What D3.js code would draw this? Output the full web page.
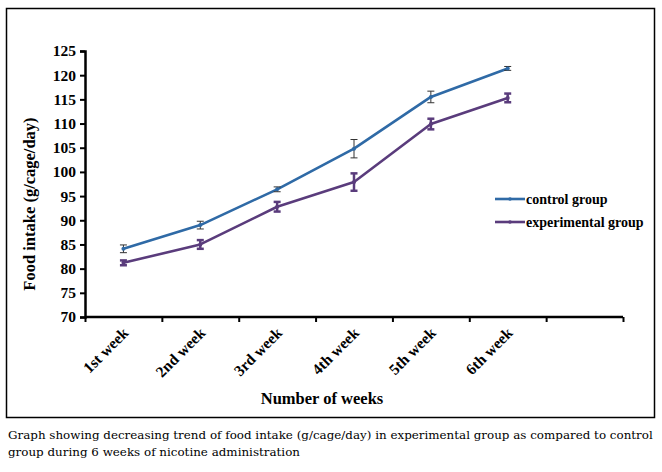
<!DOCTYPE html>
<html><head><meta charset="utf-8">
<script src="https://cdn.jsdelivr.net/npm/d3@7"></script>
<style>body{margin:0;background:#fff;} svg{display:block;}</style>
</head><body>
<svg id="c" width="662" height="472"></svg>
<script>
const categories = ["1st week","2nd week","3rd week","4th week","5th week","6th week",""];
const controlValues = [84.1, 89.0, 96.4, 104.8, 115.5, 121.4];
const controlErrors = [0.8, 0.8, 0.5, 1.9, 1.2, 0.4];
const experimentalValues = [81.2, 85.0, 92.8, 97.9, 109.9, 115.3];
const experimentalErrors = [0.5, 0.9, 1.0, 1.8, 1.1, 0.9];
const yTicks = [70,75,80,85,90,95,100,105,110,115,120,125];
const seriesNames = ["control group","experimental group"];

const svg = d3.select("#c");
const serif = "Liberation Serif";
svg.append("rect").attr("x",6.5).attr("y",8.5).attr("width",648).attr("height",409)
  .attr("fill","none").attr("stroke","#000").attr("stroke-width",1.5);

const x = d3.scaleBand().domain(categories.map((c,i)=>i)).range([85,623]);
const y = d3.scaleLinear().domain([70,125]).range([317,51]);

const yAxis = svg.append("g").attr("transform","translate(85,0)")
  .call(d3.axisLeft(y).tickValues(yTicks).tickSize(5).tickPadding(4));
yAxis.attr("font-family",serif);
yAxis.select(".domain").attr("stroke-width",2.5);
yAxis.selectAll(".tick line").attr("stroke-width",2);
yAxis.selectAll("text").style("font-family",serif).attr("font-weight","bold").attr("font-size",15.5).attr("fill","#000");

const xAxis = svg.append("g").attr("transform","translate(0,317)")
  .call(d3.axisBottom(d3.scaleLinear().domain([0,7]).range([85,623])).ticks(7).tickSize(5).tickFormat(""));
xAxis.select(".domain").attr("stroke-width",2.5).attr("d","M85,0H623");
xAxis.selectAll(".tick line").attr("stroke-width",2);

categories.slice(0,6).forEach((c,i)=>{
  const cx = x(i)+x.bandwidth()/2 + 6;
  svg.append("text").attr("transform",`translate(${cx},334) rotate(-45)`)
    .attr("text-anchor","end").style("font-family",serif).attr("font-weight","bold")
    .attr("font-size",15.5).text(c);
});

const cxs = i => x(i)+x.bandwidth()/2;
const line = d3.line().x((d,i)=>cxs(i)).y(d=>y(d));

function drawSeries(vals, errs, color, errColor, errW, capW){
  svg.append("path").datum(vals).attr("d",line).attr("fill","none")
    .attr("stroke",color).attr("stroke-width",2.6).attr("stroke-linejoin","round");
  const g = svg.append("g");
  vals.forEach((v,i)=>{
    const X = cxs(i), y1 = y(v+errs[i]), y2 = y(v-errs[i]);
    g.append("line").attr("x1",X).attr("x2",X).attr("y1",y1).attr("y2",y2).attr("stroke",errColor).attr("stroke-width",errW);
    g.append("line").attr("x1",X-capW).attr("x2",X+capW).attr("y1",y1).attr("y2",y1).attr("stroke",errColor).attr("stroke-width",errW);
    g.append("line").attr("x1",X-capW).attr("x2",X+capW).attr("y1",y2).attr("y2",y2).attr("stroke",errColor).attr("stroke-width",errW);
    g.append("circle").attr("cx",X).attr("cy",y(v)).attr("r",2).attr("fill",color);
  });
}
drawSeries(controlValues, controlErrors, "#2f6aa6", "#333", 1, 3.5);
drawSeries(experimentalValues, experimentalErrors, "#5a3c7c", "#5a3c7c", 2.5, 3.5);

// legend
const legColors = ["#2f6aa6","#5a3c7c"];
seriesNames.forEach((n,i)=>{
  const ly = 199 + i*23;
  svg.append("line").attr("x1",495).attr("x2",525).attr("y1",ly).attr("y2",ly).attr("stroke",legColors[i]).attr("stroke-width",2.6);
  svg.append("circle").attr("cx",510).attr("cy",ly).attr("r",1.8).attr("fill",legColors[i]);
  svg.append("text").attr("x",526).attr("y",ly+4.5).style("font-family",serif).attr("font-weight","bold")
    .attr("font-size",14).text(n);
});

// axis titles
svg.append("text").attr("x",322).attr("y",404).attr("text-anchor","middle").style("font-family",serif)
  .attr("font-weight","bold").attr("font-size",16.5).text("Number of weeks");
svg.append("text").attr("transform","translate(35,204) rotate(-90)").attr("text-anchor","middle").style("font-family",serif)
  .attr("font-weight","bold").attr("font-size",16.5).text("Food intake (g/cage/day)");

// caption
const capFont = "DejaVu Serif";
svg.append("text").attr("x",8).attr("y",439).style("font-family",capFont).attr("font-size",11.9)
  .text("Graph showing decreasing trend of food intake (g/cage/day) in experimental group as compared to control");
svg.append("text").attr("x",8).attr("y",456).style("font-family",capFont).attr("font-size",11.9)
  .text("group during 6 weeks of nicotine administration");
</script>
</body></html>
